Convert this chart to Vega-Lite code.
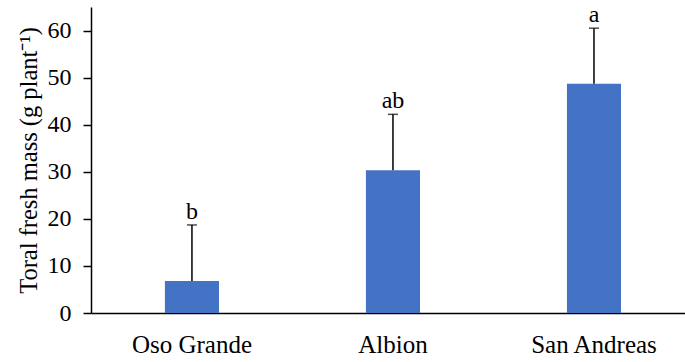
{
  "$schema": "https://vega.github.io/schema/vega-lite/v6.json",
  "autosize": {"type": "none"},
  "width": 594,
  "height": 306,
  "padding": {"left": 91, "top": 7, "right": 0, "bottom": 49},
  "background": "white",
  "config": {
    "view": {"stroke": null},
    "font": "Liberation Serif",
    "axis": {"labelFont": "Liberation Serif", "titleFont": "Liberation Serif", "labelColor": "black", "titleColor": "black", "domainColor": "black", "tickColor": "black", "grid": false}
  },
  "data": {
    "values": [
      {"cultivar": "Oso Grande", "mass": 6.8, "upper": 18.7, "letter": "b"},
      {"cultivar": "Albion", "mass": 30.3, "upper": 42.2, "letter": "ab"},
      {"cultivar": "San Andreas", "mass": 48.7, "upper": 60.5, "letter": "a"}
    ]
  },
  "encoding": {
    "x": {
      "field": "cultivar",
      "type": "nominal",
      "sort": null,
      "scale": {"paddingInner": 0.731, "paddingOuter": 0.343, "align": 0.536},
      "axis": {"title": null, "labelAngle": 0, "ticks": false, "labelFontSize": 25, "labelPadding": 19, "domainWidth": 1.5}
    }
  },
  "layer": [
    {
      "mark": {"type": "bar", "color": "#4472C4"},
      "encoding": {
        "y": {
          "field": "mass",
          "type": "quantitative",
          "scale": {"domain": [0, 65], "nice": false},
          "axis": {
            "title": "Toral fresh mass (g plant⁻¹)",
            "titleFontSize": 24.5,
            "titleFontWeight": "normal",
            "titlePadding": 6,
            "labelFontSize": 24,
            "labelPadding": 12,
            "tickSize": 8,
            "tickWidth": 1.5,
            "domainWidth": 1.5,
            "values": [0, 10, 20, 30, 40, 50, 60]
          }
        }
      }
    },
    {
      "mark": {"type": "rule", "color": "black", "strokeWidth": 1.5},
      "encoding": {"y": {"field": "mass", "type": "quantitative"}, "y2": {"field": "upper"}}
    },
    {
      "mark": {"type": "tick", "color": "black", "size": 10, "thickness": 1.5},
      "encoding": {"y": {"field": "upper", "type": "quantitative"}}
    },
    {
      "mark": {"type": "text", "fontSize": 24, "baseline": "alphabetic", "dy": -6, "color": "black"},
      "encoding": {"y": {"field": "upper", "type": "quantitative"}, "text": {"field": "letter"}}
    }
  ]
}
